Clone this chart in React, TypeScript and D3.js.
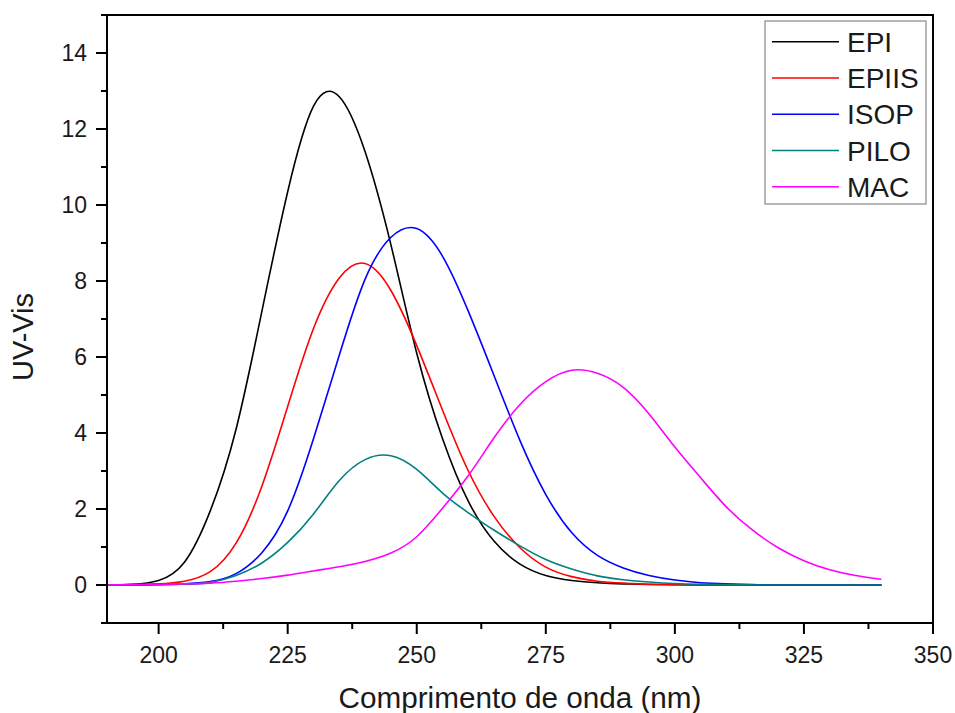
import React from "react";
import * as d3 from "d3";

type Pt = [number, number];

const EPI: Pt[] = [
  [190, 0], [195, 0.02], [200, 0.12], [205, 0.6], [210, 1.95], [215, 4.1], [220, 7.2],
  [225, 10.35], [230, 12.6], [235, 12.85], [240, 11.4], [245, 8.95],
  [250, 6.1], [255, 3.85], [260, 2.2], [265, 1.15], [270, 0.55], [275, 0.25],
  [280, 0.12], [285, 0.06], [290, 0.03], [295, 0.015], [300, 0.008], [305, 0], [310, 0],
  [320, 0], [330, 0], [340, 0],
];

const EPIIS: Pt[] = [
  [190, 0], [195, 0.01], [200, 0.03], [205, 0.1], [210, 0.35], [215, 1.1], [220, 2.6],
  [225, 4.7], [230, 6.75], [235, 8.08], [240, 8.46], [245, 7.75], [250, 6.3],
  [255, 4.6], [260, 3.0], [265, 1.8], [270, 0.98], [275, 0.47], [280, 0.22],
  [285, 0.1], [290, 0.05], [295, 0.02], [300, 0.01], [305, 0], [310, 0], [320, 0],
  [330, 0], [340, 0],
];

const ISOP: Pt[] = [
  [190, 0], [195, 0], [200, 0.01], [205, 0.03], [210, 0.09], [215, 0.3], [220, 0.85],
  [225, 1.95], [230, 3.85], [235, 6.05], [240, 8.05], [245, 9.15], [250, 9.38],
  [255, 8.65], [260, 7.2], [265, 5.5], [270, 3.8], [275, 2.38], [280, 1.38],
  [285, 0.78], [290, 0.45], [295, 0.25], [300, 0.13], [305, 0.06], [310, 0.03],
  [315, 0.01], [320, 0], [330, 0], [340, 0],
];

const PILO: Pt[] = [
  [190, 0], [195, 0], [200, 0.01], [205, 0.02], [210, 0.07], [215, 0.25], [220, 0.58],
  [225, 1.12], [230, 1.87], [235, 2.75], [240, 3.3], [245, 3.4],
  [250, 3.04], [255, 2.42], [260, 1.9], [265, 1.44], [270, 1.03], [275, 0.67],
  [280, 0.42], [285, 0.24], [290, 0.14], [295, 0.08], [300, 0.04], [305, 0.02],
  [310, 0.01], [320, 0], [330, 0], [340, 0],
];

const MAC: Pt[] = [
  [190, 0], [195, 0.01], [200, 0.02], [205, 0.03], [210, 0.05], [215, 0.1], [220, 0.17],
  [225, 0.26], [230, 0.37], [235, 0.48], [240, 0.62], [245, 0.84], [250, 1.27],
  [255, 2.02], [260, 2.88], [265, 3.88], [270, 4.75], [275, 5.35], [280, 5.65],
  [285, 5.57], [290, 5.2], [295, 4.5], [300, 3.63], [305, 2.82], [310, 2.05],
  [315, 1.45], [320, 0.98], [325, 0.64], [330, 0.4], [335, 0.25], [340, 0.15],
];

const SERIES_NAMES = ["EPI", "EPIIS", "ISOP", "PILO", "MAC"];
const SERIES_DATA = [EPI, EPIIS, ISOP, PILO, MAC];
const SERIES_COLORS = ["#000000", "#ff0000", "#0000ff", "#008080", "#ff00ff"];

const X_MAJOR = [200, 225, 250, 275, 300, 325, 350];
const Y_MAJOR = [0, 2, 4, 6, 8, 10, 12, 14];

const X_LABEL = "Comprimento de onda (nm)";
const Y_LABEL = "UV-Vis";

export default function App() {
  const W = 955, H = 713;
  const L = 107, R = 933, T = 15, B = 623;
  const x = d3.scaleLinear().domain([190, 350]).range([L, R]);
  const y = d3.scaleLinear().domain([-1, 15]).range([B, T]);
  const line = d3
    .line<Pt>()
    .x((d) => x(d[0]))
    .y((d) => y(d[1]))
    .curve(d3.curveNatural);

  const xMinor = d3.range(212.5, 350, 25);
  const yMinor = d3.range(-1, 16, 2);
  const font = "Liberation Sans, Arial, sans-serif";

  const legX = 765, legY = 21, legW = 161, legH = 183;
  const rowY = (i: number) => 41.7 + i * 36.25;

  return (
    <svg
      width={W}
      height={H}
      style={{ position: "absolute", left: 0, top: 0, background: "#fff" }}
      fontFamily={font}
    >
      <rect x={0} y={0} width={W} height={H} fill="#fff" />
      <g>
        {SERIES_DATA.map((d, i) => (
          <path key={i} d={line(d) || ""} fill="none" stroke={SERIES_COLORS[i]} strokeWidth={1.6} />
        ))}
      </g>
      <rect x={L} y={T} width={R - L} height={B - T} fill="none" stroke="#000" strokeWidth={2} />
      {X_MAJOR.map((v) => (
        <g key={"xm" + v}>
          <line x1={x(v)} x2={x(v)} y1={B} y2={B + 11} stroke="#000" strokeWidth={2} />
          <text x={x(v)} y={663} textAnchor="middle" fontSize={23} fill="#1a1a1a">
            {v}
          </text>
        </g>
      ))}
      {xMinor.map((v) => (
        <line key={"xn" + v} x1={x(v)} x2={x(v)} y1={B} y2={B + 6} stroke="#000" strokeWidth={2} />
      ))}
      {Y_MAJOR.map((v) => (
        <g key={"ym" + v}>
          <line x1={L - 11} x2={L} y1={y(v)} y2={y(v)} stroke="#000" strokeWidth={2} />
          <text x={87} y={y(v)} dy="0.36em" textAnchor="end" fontSize={23} fill="#1a1a1a">
            {v}
          </text>
        </g>
      ))}
      {yMinor.map((v) => (
        <line key={"yn" + v} x1={L - 6} x2={L} y1={y(v)} y2={y(v)} stroke="#000" strokeWidth={2} />
      ))}
      <text x={(L + R) / 2} y={708} textAnchor="middle" fontSize={29.7} fill="#1a1a1a">
        {X_LABEL}
      </text>
      <text
        transform={`translate(33, 337) rotate(-90)`}
        textAnchor="middle"
        fontSize={29}
        fill="#1a1a1a"
      >
        {Y_LABEL}
      </text>
      <rect x={legX} y={legY} width={legW} height={legH} fill="#fff" stroke="#888" strokeWidth={1.2} />
      {SERIES_NAMES.map((n, i) => (
        <g key={n}>
          <line x1={772} x2={839} y1={rowY(i)} y2={rowY(i)} stroke={SERIES_COLORS[i]} strokeWidth={1.6} />
          <text x={847} y={rowY(i)} dy="0.36em" fontSize={28} fill="#1a1a1a">
            {n}
          </text>
        </g>
      ))}
    </svg>
  );
}
